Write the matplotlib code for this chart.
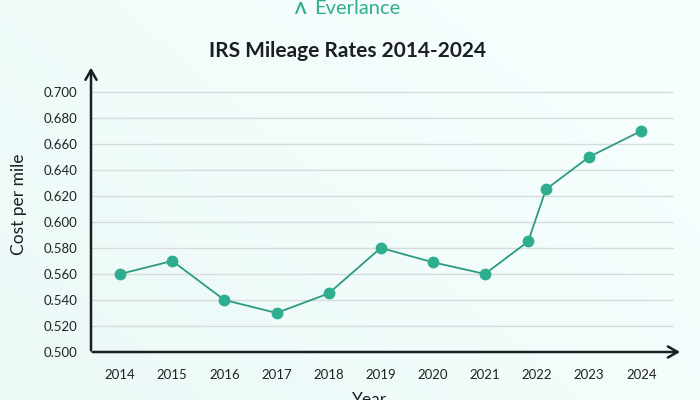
import numpy as np
import matplotlib.pyplot as plt

# IRS mileage rates (2022 had a mid-year change -> two points around 2022)
years = [2014, 2015, 2016, 2017, 2018, 2019, 2020, 2021, 2021.83, 2022.17, 2023, 2024]
rates = [0.560, 0.570, 0.540, 0.530, 0.545, 0.580, 0.569, 0.560, 0.585, 0.625, 0.650, 0.670]
tick_years = [2014, 2015, 2016, 2017, 2018, 2019, 2020, 2021, 2022, 2023, 2024]
y_ticks = [0.500, 0.520, 0.540, 0.560, 0.580, 0.600, 0.620, 0.640, 0.660, 0.680, 0.700]

green = "#2fae8f"
line_green = "#2c9b80"
dark = "#1c1f22"

plt.rcParams['font.family'] = ['Lato', 'DejaVu Sans']

fig = plt.figure(figsize=(7, 4), dpi=100)

# soft mint gradient background
bg = fig.add_axes([0, 0, 1, 1], zorder=-10)
gx, gy = np.meshgrid(np.linspace(0, 1, 200), np.linspace(0, 1, 200))
grad = 0.6 * gx + 0.4 * gy
bg.imshow(grad, cmap=plt.matplotlib.colors.LinearSegmentedColormap.from_list(
    "bg", ["#ebf9f7", "#f8ffff"]), extent=[0, 1, 0, 1], aspect="auto", origin="lower")
bg.axis("off")

ax = fig.add_axes([0.13, 0.12, 0.833, 0.718])
ax.set_facecolor("none")
ax.set_xlim(2013.44, 2024.63)
ax.set_ylim(0.5, 0.7208)

for v in y_ticks[1:]:
    ax.axhline(v, color="#d6dcdc", lw=1.0, zorder=1)

ax.plot(years, rates, color=line_green, lw=1.3, marker="o", markersize=7.5,
        markerfacecolor=green, markeredgecolor=green, zorder=3)

for s in ax.spines.values():
    s.set_visible(False)

# arrow-style axes
ax.annotate("", xy=(0, 1.0), xytext=(0, -0.004), xycoords="axes fraction",
            arrowprops=dict(arrowstyle="->,head_length=0.7,head_width=0.4", lw=1.8, color=dark))
ax.annotate("", xy=(1.015, 0), xytext=(-0.002, 0), xycoords="axes fraction",
            arrowprops=dict(arrowstyle="->,head_length=0.7,head_width=0.4", lw=1.8, color=dark))

ax.set_xticks(tick_years)
ax.set_xticklabels([str(y) for y in tick_years])
ax.set_yticks(y_ticks)
ax.set_yticklabels(["%.3f" % v for v in y_ticks])
ax.tick_params(length=0, labelsize=9.5, colors="#222222", pad=10)
ax.tick_params(axis="x", pad=12)

fig.text(0.027, 0.49, "Cost per mile", rotation=90, ha="center", va="center",
         fontsize=12.5, color=dark)
fig.text(0.528, 0.0, "Year", ha="center", va="center", fontsize=12.5, color=dark)

fig.text(0.497, 0.872, "IRS Mileage Rates 2014-2024", ha="center", va="center",
         fontsize=15, color=dark, fontweight="bold")

# logo
fig.text(0.429, 0.978, "\u039b", ha="center", va="center", fontsize=12, color=green,
         fontweight="bold")
fig.text(0.511, 0.978, "Everlance", ha="center", va="center", fontsize=14.5, color=green)

fig.savefig("out.png", dpi=100)
